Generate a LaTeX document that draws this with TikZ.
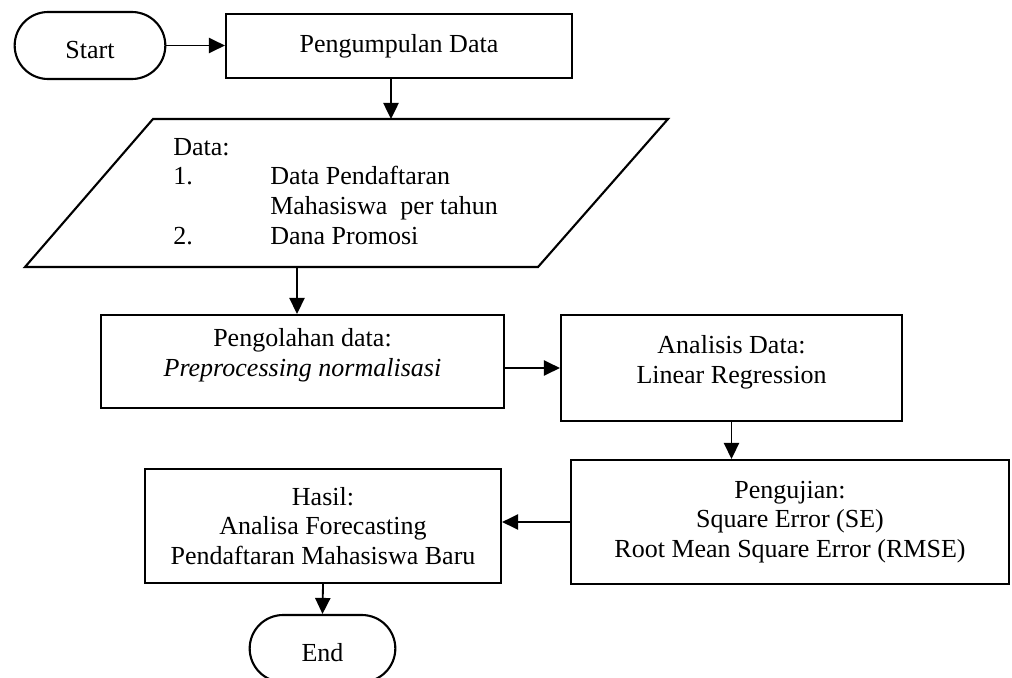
\documentclass[tikz,border=0pt]{standalone}
\usepackage{fontspec}
\setmainfont{Liberation Serif}
\usetikzlibrary{shapes.misc,arrows.meta}

\tikzset{
  proses/.style={draw,line width=1.5pt,rectangle,align=center,font=\fontsize{18.5}{21}\selectfont},
  terminal/.style={draw,line width=1.5pt,rounded rectangle,minimum height=1.675cm,text height=18pt,font=\fontsize{18.5}{21}\selectfont},
  panah/.style={line width=1.3pt,-{Triangle[length=0.4cm,width=0.38cm]}}
}

\begin{document}
\begin{tikzpicture}[x=0.025cm,y=-0.025cm]
\useasboundingbox (0,0) rectangle (1012,677);

\node[terminal,minimum width=4cm] (start) at (90,45.5) {Start};
\node[proses,minimum width=8.65cm,minimum height=1.6cm] (kumpul) at (399,46) {Pengumpulan Data};

% input data
\coordinate (dtop) at (391,119);
\coordinate (dbot) at (297,267);
\draw[line width=1.5pt] (153,119) -- (668,119) -- (538,267) -- (25,267) -- cycle;
\node[anchor=base west,inner sep=0pt,font=\fontsize{18.5}{21.3}\selectfont] (data) at (173,155)
  {\begin{tabular}[t]{@{}p{2.425cm}@{}l@{}}
   Data: & \\
   1. & Data Pendaftaran \\
      & Mahasiswa\ \ per tahun \\
   2. & Dana Promosi
   \end{tabular}};

\node[proses,minimum width=10.075cm,minimum height=2.325cm] (olah) at (302.5,361.5)
  {Pengolahan data:\\\textit{Preprocessing normalisasi}\\[-8pt]};
\node[proses,minimum width=8.525cm,minimum height=2.65cm] (analisis) at (731.5,368)
  {Analisis Data:\\Linear Regression\\[-9pt]};
\node[proses,minimum width=10.95cm,minimum height=3.1cm] (uji) at (790,522)
  {Pengujian:\\Square Error (SE)\\Root Mean Square Error (RMSE)};
\node[proses,minimum width=8.9cm,minimum height=2.85cm] (hasil) at (323,526)
  {Hasil:\\Analisa Forecasting\\Pendaftaran Mahasiswa Baru};
\node[terminal,minimum width=3.875cm] (end) at (322.5,648.5) {End};

% alur
\draw[panah] (start.east) -- (start.east -| kumpul.west);
\draw[panah] (dtop |- kumpul.south) -- (dtop);
\draw[panah] (dbot) -- (dbot |- olah.north);
\draw[panah] (analisis.west -| olah.east) -- (analisis.west);
\draw[panah] (analisis.south) -- (analisis.south |- uji.north);
\draw[panah] (uji.west) -- (uji.west -| hasil.east);
\draw[panah] (hasil.south) -- (end.north);
\end{tikzpicture}
\end{document}
